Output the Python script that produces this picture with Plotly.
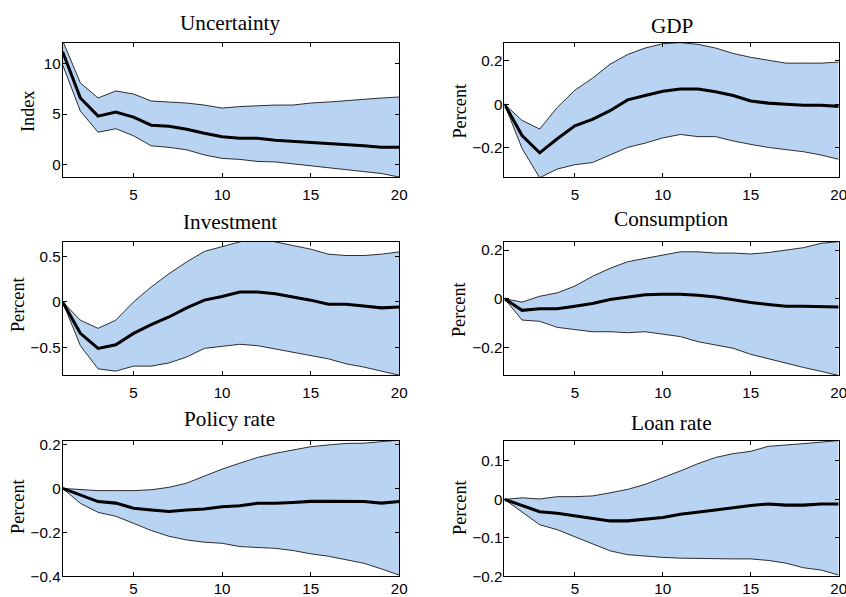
import plotly.graph_objects as go

# Horizon (quarters)
horizon = list(range(1, 21))

# Panel titles and y-axis labels
titles = ["Uncertainty", "GDP", "Investment", "Consumption", "Policy rate", "Loan rate"]
ylabels = ["Index", "Percent", "Percent", "Percent", "Percent", "Percent"]

# Median responses
unc_med = [11.2, 6.6, 4.8, 5.2, 4.7, 3.9, 3.8, 3.5, 3.1, 2.75, 2.6, 2.6, 2.4, 2.3, 2.2, 2.1, 1.95, 1.85, 1.7, 1.7]
gdp_med = [0.0, -0.145, -0.225, -0.16, -0.10, -0.07, -0.03, 0.02, 0.04, 0.06, 0.07, 0.07, 0.058, 0.04, 0.015, 0.005, 0.0, -0.005, -0.005, -0.01]
inv_med = [0.0, -0.345, -0.51, -0.47, -0.345, -0.25, -0.165, -0.065, 0.02, 0.06, 0.11, 0.11, 0.09, 0.055, 0.02, -0.025, -0.025, -0.045, -0.065, -0.055]
con_med = [0.0, -0.048, -0.041, -0.041, -0.031, -0.02, -0.003, 0.007, 0.016, 0.018, 0.018, 0.014, 0.007, -0.004, -0.016, -0.024, -0.031, -0.031, -0.034, -0.034]
pol_med = [0.0, -0.03, -0.06, -0.067, -0.09, -0.098, -0.105, -0.098, -0.094, -0.083, -0.079, -0.068, -0.068, -0.064, -0.059, -0.059, -0.059, -0.06, -0.067, -0.06]
loan_med = [0.0, -0.015, -0.032, -0.036, -0.042, -0.049, -0.056, -0.056, -0.051, -0.047, -0.039, -0.034, -0.028, -0.022, -0.016, -0.012, -0.015, -0.015, -0.012, -0.012]

# Upper credible bands
unc_hi = [12.3, 8.1, 6.6, 7.3, 7.0, 6.3, 6.2, 6.1, 5.9, 5.6, 5.75, 5.85, 5.9, 5.9, 6.1, 6.2, 6.35, 6.5, 6.6, 6.7]
gdp_hi = [0.0, -0.075, -0.115, -0.015, 0.065, 0.12, 0.185, 0.23, 0.26, 0.28, 0.285, 0.277, 0.26, 0.235, 0.217, 0.205, 0.19, 0.19, 0.19, 0.195]
inv_hi = [0.0, -0.2, -0.29, -0.2, 0.0, 0.165, 0.31, 0.44, 0.555, 0.61, 0.66, 0.70, 0.66, 0.62, 0.58, 0.525, 0.51, 0.51, 0.525, 0.55]
con_hi = [0.0, -0.014, 0.01, 0.024, 0.052, 0.092, 0.125, 0.152, 0.166, 0.18, 0.193, 0.193, 0.188, 0.188, 0.184, 0.19, 0.2, 0.21, 0.228, 0.235]
pol_hi = [0.0, -0.006, -0.01, -0.01, -0.01, -0.006, 0.005, 0.024, 0.055, 0.088, 0.115, 0.141, 0.16, 0.176, 0.19, 0.198, 0.205, 0.206, 0.214, 0.22]
loan_hi = [0.0, 0.004, 0.001, 0.007, 0.007, 0.009, 0.017, 0.026, 0.039, 0.056, 0.074, 0.093, 0.109, 0.119, 0.125, 0.138, 0.141, 0.145, 0.149, 0.153]

# Lower credible bands
unc_lo = [9.9, 5.3, 3.2, 3.55, 2.85, 1.85, 1.7, 1.45, 0.95, 0.6, 0.5, 0.3, 0.25, 0.05, -0.1, -0.3, -0.5, -0.75, -0.9, -1.25]
gdp_lo = [0.0, -0.205, -0.34, -0.30, -0.28, -0.27, -0.235, -0.20, -0.18, -0.156, -0.14, -0.15, -0.15, -0.17, -0.186, -0.20, -0.21, -0.22, -0.235, -0.255]
inv_lo = [0.0, -0.48, -0.735, -0.76, -0.705, -0.705, -0.67, -0.605, -0.51, -0.49, -0.465, -0.48, -0.515, -0.55, -0.585, -0.625, -0.68, -0.715, -0.76, -0.805]
con_lo = [0.0, -0.088, -0.093, -0.118, -0.127, -0.136, -0.136, -0.14, -0.136, -0.146, -0.156, -0.177, -0.19, -0.204, -0.229, -0.248, -0.265, -0.283, -0.299, -0.316]
pol_lo = [0.0, -0.068, -0.109, -0.127, -0.159, -0.192, -0.218, -0.235, -0.245, -0.25, -0.265, -0.268, -0.273, -0.283, -0.298, -0.309, -0.324, -0.341, -0.367, -0.395]
loan_lo = [0.0, -0.032, -0.066, -0.079, -0.098, -0.115, -0.134, -0.144, -0.148, -0.151, -0.153, -0.154, -0.155, -0.155, -0.155, -0.159, -0.166, -0.178, -0.184, -0.197]

# Axis ranges and tick values
y_ranges = [[-1.27, 12.1], [-0.338, 0.285], [-0.805, 0.663], [-0.315, 0.235], [-0.40, 0.218], [-0.20, 0.153]]
y_ticks = [[0, 5, 10], [-0.2, 0, 0.2], [-0.5, 0, 0.5], [-0.2, 0, 0.2], [-0.4, -0.2, 0, 0.2], [-0.2, -0.1, 0, 0.1]]
x_ticks = [5, 10, 15, 20]

medians = [unc_med, gdp_med, inv_med, con_med, pol_med, loan_med]
uppers = [unc_hi, gdp_hi, inv_hi, con_hi, pol_hi, loan_hi]
lowers = [unc_lo, gdp_lo, inv_lo, con_lo, pol_lo, loan_lo]

# Page grid (layout units) and figure size
GW, GH = 846, 597
W, H = 856, 604
k = W / GW
col_px = [(62.5, 398.3), (503.3, 836.7)]
row_px = [(38, 174), (239, 374), (440, 577)]
title_cy = [18, 21, 219, 216, 418, 422]
title_cx = [229, 670]
ylabel_pos = [(28, 108), (459, 107.5), (18, 303), (458.5, 307.5), (18, 507), (459, 508)]
xlabel_standoff = [4, 4, -1]

band_fill = "rgb(185,212,242)"
serif = "Liberation Serif, Times New Roman, serif"
sans = "Liberation Sans, Arial, sans-serif"

fig = go.Figure()
layout = dict(
    width=W, height=H, margin=dict(l=0, r=0, t=0, b=0),
    paper_bgcolor="white", plot_bgcolor="white", showlegend=False,
    annotations=[],
)

for i in range(6):
    r, c = divmod(i, 2)
    n = "" if i == 0 else str(i + 1)
    xa, ya = "x" + n, "y" + n
    x0, x1 = col_px[c]
    top, bot = row_px[r]

    # credible band: lower edge, then upper edge filled down to it
    fig.add_trace(go.Scatter(x=horizon, y=lowers[i], mode="lines",
                             line=dict(color="black", width=0.8 * k),
                             xaxis=xa, yaxis=ya, hoverinfo="skip"))
    fig.add_trace(go.Scatter(x=horizon, y=uppers[i], mode="lines", fill="tonexty",
                             fillcolor=band_fill,
                             line=dict(color="black", width=0.8 * k),
                             xaxis=xa, yaxis=ya, hoverinfo="skip"))
    # median response
    fig.add_trace(go.Scatter(x=horizon, y=medians[i], mode="lines",
                             line=dict(color="black", width=3 * k),
                             xaxis=xa, yaxis=ya))

    axis_common = dict(showline=True, linecolor="black", linewidth=1, mirror="ticks",
                       ticks="inside", ticklen=4 * k, tickcolor="black", showgrid=False,
                       zeroline=False, tickfont=dict(family=sans, size=15.2, color="black"))
    layout["xaxis" + n] = dict(axis_common, domain=[x0 / GW, x1 / GW], range=[1, 20],
                               tickvals=x_ticks, anchor=ya,
                               ticklabelstandoff=xlabel_standoff[r])
    layout["yaxis" + n] = dict(axis_common, domain=[1 - bot / GH, 1 - top / GH],
                               range=y_ranges[i], tickvals=y_ticks[i], anchor=xa,
                               ticklabelstandoff=-2)

    layout["annotations"].append(dict(
        text=titles[i], x=title_cx[c] / GW, y=1 - title_cy[i] / GH,
        xref="paper", yref="paper", xanchor="center", yanchor="middle",
        showarrow=False, font=dict(family=serif, size=21.2, color="black")))
    lx, ly = ylabel_pos[i]
    layout["annotations"].append(dict(
        text=ylabels[i], x=lx / GW, y=1 - ly / GH,
        xref="paper", yref="paper", xanchor="center", yanchor="middle",
        textangle=-90, showarrow=False,
        font=dict(family=serif, size=18.2, color="black")))

fig.update_layout(**layout)
fig.write_html("out.html")
